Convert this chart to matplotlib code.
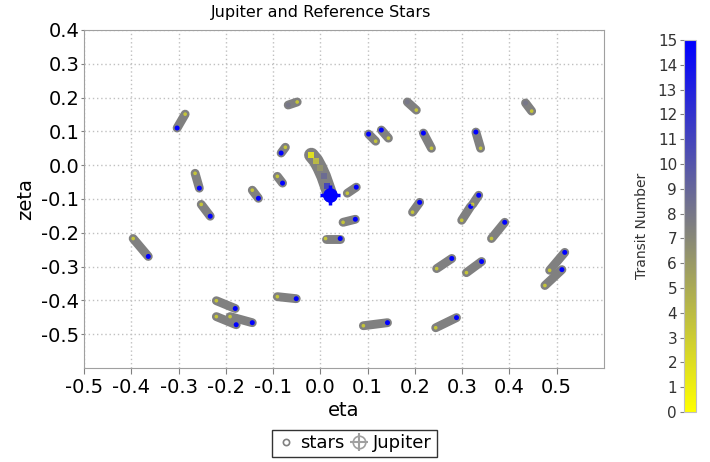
import matplotlib
matplotlib.use("Agg")
import matplotlib.pyplot as plt
from matplotlib.colors import LinearSegmentedColormap, Normalize
from matplotlib.lines import Line2D
from matplotlib.legend_handler import HandlerTuple
from matplotlib.cm import ScalarMappable

# ── data: reference star tracks (first and last transit) ─────────────────────
star_eta_start = [-0.286, -0.265, -0.252, -0.396, -0.220, -0.220, -0.191, -0.144,
                  -0.049, -0.074, -0.091, 0.057, 0.117, 0.144, 0.203, 0.235,
                  0.339, 0.447, 0.299, 0.322, 0.362, 0.246, 0.309, 0.485,
                  0.475, 0.244, 0.091, -0.091, 0.011, 0.048, 0.195]
star_zeta_start = [0.151, -0.024, -0.116, -0.217, -0.401, -0.448, -0.448, -0.074,
                   0.187, 0.053, -0.033, -0.083, 0.071, 0.080, 0.163, 0.050,
                   0.050, 0.160, -0.163, -0.116, -0.217, -0.306, -0.318, -0.311,
                   -0.356, -0.481, -0.475, -0.389, -0.217, -0.169, -0.139]
star_eta_end = [-0.303, -0.256, -0.233, -0.364, -0.180, -0.178, -0.144, -0.131,
                -0.068, -0.083, -0.080, 0.076, 0.102, 0.129, 0.184, 0.218,
                0.329, 0.434, 0.318, 0.335, 0.390, 0.278, 0.341, 0.517,
                0.511, 0.288, 0.142, -0.051, 0.042, 0.074, 0.210]
star_zeta_end = [0.110, -0.068, -0.151, -0.270, -0.424, -0.472, -0.466, -0.098,
                 0.178, 0.036, -0.053, -0.065, 0.092, 0.104, 0.187, 0.095,
                 0.098, 0.184, -0.122, -0.089, -0.169, -0.276, -0.285, -0.258,
                 -0.309, -0.451, -0.466, -0.395, -0.217, -0.160, -0.110]
star_last_transit = [15, 15, 15, 15, 15, 15, 15, 15,
                     8, 15, 15, 15, 15, 15, 8, 15,
                     15, 8, 15, 15, 15, 15, 15, 15,
                     15, 15, 15, 15, 15, 15, 15]

# ── data: Jupiter track ──────────────────────────────────────────────────────
jup_transit = [0, 3, 6, 9, 12, 15]
jup_eta = [-0.019, -0.009, -0.001, 0.007, 0.014, 0.021]
jup_zeta = [0.030, 0.013, -0.008, -0.033, -0.061, -0.089]

x_ticks = [-0.5, -0.4, -0.3, -0.2, -0.1, 0.0, 0.1, 0.2, 0.3, 0.4, 0.5]
y_ticks = [0.4, 0.3, 0.2, 0.1, 0.0, -0.1, -0.2, -0.3, -0.4, -0.5]

cmap = LinearSegmentedColormap.from_list("transit", ["#ffff00", "#808080", "#0000ff"])
norm = Normalize(vmin=0, vmax=15)
GREY = "#808080"

fig = plt.figure(figsize=(7.1, 4.62), dpi=100)
ax = fig.add_axes([0.1183, 0.2035, 0.7324, 0.7316])

# ── star streaks ─────────────────────────────────────────────────────────────
for e0, z0, e1, z1, tl in zip(star_eta_start, star_zeta_start,
                              star_eta_end, star_zeta_end, star_last_transit):
    ax.plot([e0, e1], [z0, z1], color=GREY, lw=6.4,
            solid_capstyle="round", zorder=2)
    ax.scatter([e0], [z0], c=[0], cmap=cmap, norm=norm, s=7, alpha=0.55,
               edgecolors="none", zorder=3)
    ax.scatter([e1], [z1], c=[tl], cmap=cmap, norm=norm, s=13,
               edgecolors="none", zorder=3)

# ── Jupiter streak ───────────────────────────────────────────────────────────
ax.plot(jup_eta, jup_zeta, color=GREY, lw=10.5, solid_capstyle="round",
        solid_joinstyle="round", zorder=2)
ax.scatter(jup_eta[:-1], jup_zeta[:-1], c=jup_transit[:-1], cmap=cmap, norm=norm,
           s=18, marker="s", alpha=0.75, edgecolors="none", zorder=3)
ax.plot(jup_eta[-1], jup_zeta[-1], marker="o", ms=9.5, color="#0000ff",
        mec="#0000ff", zorder=4)
ax.plot(jup_eta[-1], jup_zeta[-1], marker="+", ms=14, mew=2.5,
        color="#0000ff", zorder=4)

# ── axes cosmetics ───────────────────────────────────────────────────────────
ax.set_xlim(-0.5, 0.6)
ax.set_ylim(-0.6, 0.4)
ax.set_xticks(x_ticks)
ax.set_yticks(y_ticks)
ax.set_xticklabels([f"{v:.1f}" for v in x_ticks])
ax.set_yticklabels([f"{v:.1f}" for v in y_ticks])
ax.tick_params(labelsize=14, color=GREY)
ax.tick_params(axis="x", length=4, pad=3)
ax.tick_params(axis="y", length=2, pad=1.5)
ax.grid(True, color="#c0c0c0", linestyle=(0, (1, 2)), lw=1.0)
ax.set_axisbelow(True)
for spine in ax.spines.values():
    spine.set_color("#a0a0a0")
    spine.set_linewidth(0.8)
ax.set_xlabel("eta", fontsize=14, labelpad=3)
ax.set_ylabel("zeta", fontsize=14, labelpad=4)

fig.text(0.452, 0.972, "Jupiter and Reference Stars", ha="center",
         va="center", fontsize=11.5)

# ── colour bar ───────────────────────────────────────────────────────────────
cax = fig.add_axes([0.9634, 0.1082, 0.0169, 0.8052])
cb = fig.colorbar(ScalarMappable(norm=norm, cmap=cmap), cax=cax,
                  ticks=list(range(16)))
cb.outline.set_edgecolor("#c0c0c0")
cax.yaxis.set_ticks_position("left")
cax.yaxis.set_label_position("left")
cax.tick_params(labelsize=11, length=3, color=GREY, labelcolor="#333333", pad=2)
cb.set_label("Transit Number", fontsize=10, color="#333333", labelpad=6)

# ── legend ───────────────────────────────────────────────────────────────────
h_star = Line2D([0], [0], marker="o", ls="none", ms=4.5, mfc="white",
                mec=GREY, mew=1.2)
h_jup_o = Line2D([0], [0], marker="o", ls="none", ms=9, mfc="white",
                 mec="#a0a0a0", mew=1.2)
h_jup_p = Line2D([0], [0], marker="+", ls="none", ms=13, mec="#a0a0a0", mew=1.5)
leg = fig.legend([h_star, (h_jup_o, h_jup_p)], ["stars", "Jupiter"],
                 handler_map={tuple: HandlerTuple(ndivide=1)},
                 loc="center", bbox_to_anchor=(0.499, 0.041), ncol=2,
                 fontsize=13, frameon=True, fancybox=False, edgecolor="black",
                 handlelength=1.0, handletextpad=0.3, columnspacing=0.3,
                 borderpad=0.25, borderaxespad=0)
leg.get_frame().set_linewidth(1.0)

fig.savefig("out.png", dpi=100)
